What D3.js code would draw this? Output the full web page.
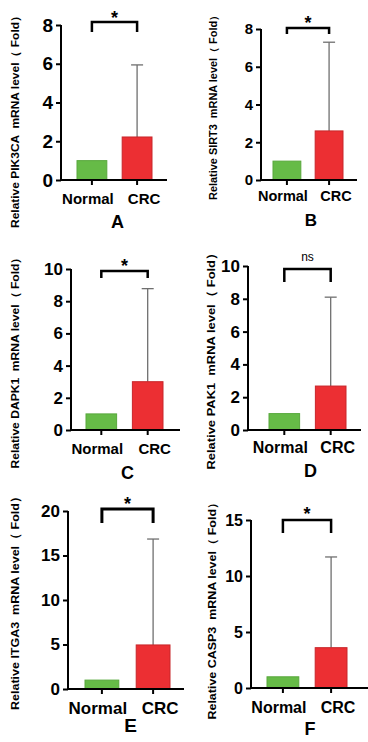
<!DOCTYPE html>
<html>
<head>
<meta charset="utf-8">
<script src="https://cdn.jsdelivr.net/npm/d3@7"></script>
<style>
body{margin:0;background:#fff;}
text{font-family:"Liberation Sans",Arial,sans-serif;}
.ytitle{white-space:pre;}
</style>
</head>
<body>
<script>
// data
var categories = ["Normal", "CRC"];
var genes = ["PIK3CA", "SIRT3", "DAPK1", "PAK1", "ITGA3", "CASP3"];
var letters = ["A", "B", "C", "D", "E", "F"];
var sigLabels = ["*", "*", "*", "ns", "*", "*"];
var normalMeans = [1, 1, 1, 1, 1, 1];
var crcMeans = [2.22, 2.6, 3.0, 2.68, 4.95, 3.6];
var crcUpper = [5.94, 7.3, 8.78, 8.1, 16.85, 11.7];
var yMax = [8, 8, 10, 10, 20, 15];
var yTicks = [[0,2,4,6,8],[0,2,4,6,8],[0,2,4,6,8,10],[0,2,4,6,8,10],[0,5,10,15,20],[0,5,10,15]];

// panel placement
var layout = [
  {ax:61, xEnd:167, b0:77, b1:152, top:25, bot:180, tx:15, ty:119, tlen:218, tfs:11, tick:19, cat:15, catY:204, let:228, lfs:18, brY:22, brL:32, starY:18, bw:2.5},
  {ax:261, xEnd:357, b0:273, b1:343, top:29, bot:180, tx:213, ty:105, tlen:190, tfs:10, tick:15, cat:14.5, catY:201, let:226, lfs:17, brY:28, brL:34, starY:23, bw:2.5},
  {ax:71, xEnd:180, b0:86, b1:163, top:269, bot:430, tx:15, ty:360, tlen:217, tfs:11, tick:17, cat:15, catY:454, let:479, lfs:18, brY:271, brL:278, starY:266, bw:2.5},
  {ax:248, xEnd:361, b0:269, b1:346, top:266, bot:430, tx:211, ty:358, tlen:223, tfs:11.5, tick:17, cat:16, catY:453, let:477, lfs:18, brY:269, brL:282, starY:261, bw:2.5},
  {ax:68, xEnd:184, b0:85, b1:170, top:511, bot:689, tx:15, ty:600, tlen:220, tfs:11.5, tick:17, cat:17, catY:714, let:732, lfs:19, brY:509, brL:523, starY:504, bw:3},
  {ax:251, xEnd:368, b0:267, b1:347, top:520, bot:688, tx:212, ty:608, tlen:223, tfs:11, tick:16, cat:16, catY:713, let:735, lfs:18, brY:520, brL:533, starY:514, bw:2.5}
];
var catShift = {Normal:-4, CRC:7};

var colors = {Normal:"#66bb47", CRC:"#ec2f33"};
var edges = {Normal:"#58a83c", CRC:"#c8262a"};

var svg = d3.select("body").append("svg")
  .attr("width", 368).attr("height", 742);

genes.forEach(function(gene, i){
  var L = layout[i];
  var g = svg.append("g");
  var x = d3.scaleBand().domain(categories).range([L.b0, L.b1]).paddingInner(0.34).paddingOuter(0);
  var y = d3.scaleLinear().domain([0, yMax[i]]).range([L.bot, L.top]);
  var vals = [normalMeans[i], crcMeans[i]];

  // error bar (CRC only, upper)
  var cx = x("CRC") + x.bandwidth()/2;
  g.append("line").attr("x1", cx).attr("x2", cx)
    .attr("y1", y(crcMeans[i])).attr("y2", y(crcUpper[i]))
    .attr("stroke", "#6f6f6f").attr("stroke-width", 1.3);
  g.append("line").attr("x1", cx - 6).attr("x2", cx + 6)
    .attr("y1", y(crcUpper[i])).attr("y2", y(crcUpper[i]))
    .attr("stroke", "#6f6f6f").attr("stroke-width", 1.3);

  g.selectAll("rect.bar").data(categories).enter().append("rect")
    .attr("class", "bar")
    .attr("x", function(d){ return x(d); })
    .attr("width", x.bandwidth())
    .attr("y", function(d, j){ return y(vals[j]); })
    .attr("height", function(d, j){ return L.bot - y(vals[j]); })
    .attr("fill", function(d){ return colors[d]; })
    .attr("stroke", function(d){ return edges[d]; })
    .attr("stroke-width", 1);

  // y axis
  var yAxis = d3.axisLeft(y).tickValues(yTicks[i]).tickSize(5).tickPadding(3).tickFormat(d3.format("d"));
  var ya = g.append("g").attr("transform", "translate(" + L.ax + ",0)").call(yAxis);
  ya.select(".domain").attr("stroke-width", 2).attr("d", "M0," + L.top + "V" + L.bot);
  ya.selectAll(".tick line").attr("stroke-width", 2);
  ya.selectAll(".tick text").attr("font-size", L.tick).attr("font-weight", "bold")
    .attr("font-family", "'Liberation Sans',Arial,sans-serif").attr("fill", "#000");

  // x axis
  var xAxis = d3.axisBottom(x).tickSize(5).tickPadding(0);
  var xa = g.append("g").attr("transform", "translate(0," + L.bot + ")").call(xAxis);
  xa.select(".domain").remove();
  xa.selectAll(".tick line").attr("stroke-width", 2);
  xa.selectAll(".tick text").remove();
  g.append("line").attr("x1", L.ax - 1).attr("x2", L.xEnd)
    .attr("y1", L.bot).attr("y2", L.bot)
    .attr("stroke", "#000").attr("stroke-width", 2);

  g.selectAll("text.cat").data(categories).enter().append("text")
    .attr("class", "cat")
    .attr("x", function(d){ return x(d) + x.bandwidth()/2 + catShift[d]; })
    .attr("y", L.catY)
    .attr("text-anchor", "middle")
    .attr("font-size", L.cat).attr("font-weight", "bold")
    .text(function(d){ return d; });

  // panel letter
  g.append("text")
    .attr("x", (x("Normal") + x("CRC") + x.bandwidth())/2 + 3)
    .attr("y", L.let)
    .attr("text-anchor", "middle")
    .attr("font-size", L.lfs).attr("font-weight", "bold")
    .text(letters[i]);

  // y title
  g.append("text")
    .attr("class", "ytitle")
    .attr("transform", "translate(" + (L.tx + L.tfs*0.38) + "," + L.ty + ") rotate(-90)")
    .attr("text-anchor", "middle")
    .attr("font-size", L.tfs).attr("font-weight", "bold")
    .attr("textLength", L.tlen).attr("lengthAdjust", "spacingAndGlyphs")
    .text("Relative " + gene + "  mRNA level（ Fold）");

  // significance bracket
  var nx = x("Normal") + x.bandwidth()/2;
  g.append("path")
    .attr("d", "M" + nx + "," + L.brL + "V" + L.brY + "H" + cx + "V" + L.brL)
    .attr("fill", "none").attr("stroke", "#000").attr("stroke-width", L.bw);
  var ns = sigLabels[i] === "ns";
  g.append("text")
    .attr("x", (nx + cx)/2)
    .attr("y", ns ? L.starY : L.starY + 6)
    .attr("text-anchor", "middle")
    .attr("font-size", ns ? 12 : 18)
    .attr("font-weight", ns ? "normal" : "bold")
    .text(sigLabels[i]);
});
</script>
</body>
</html>
